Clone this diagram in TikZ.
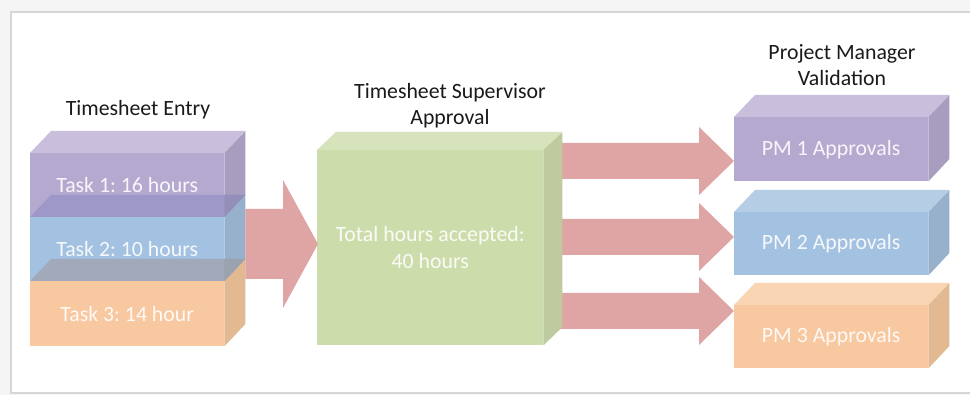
\documentclass[tikz,border=0pt]{standalone}
\usepackage{fontspec}
\setmainfont{Carlito}
\frenchspacing
\usetikzlibrary{calc}
\definecolor{purpF}{HTML}{B5A9CF}
\definecolor{purpT}{HTML}{C9BFDD}
\definecolor{purpS}{HTML}{A89DBF}
\definecolor{blueF}{HTML}{A3C1E0}
\definecolor{blueT}{HTML}{B6CDE6}
\definecolor{blueS}{HTML}{97B0CC}
\definecolor{oranF}{HTML}{F8C8A0}
\definecolor{oranT}{HTML}{FAD5B4}
\definecolor{oranS}{HTML}{E3B992}
\definecolor{greenF}{HTML}{CDDCAB}
\definecolor{greenT}{HTML}{D7E3BB}
\definecolor{greenS}{HTML}{BDCB9E}
\definecolor{ovA}{HTML}{9D98C8}
\definecolor{ovAs}{HTML}{948FB9}
\definecolor{ovB}{HTML}{A1A9BA}
\definecolor{ovBs}{HTML}{9AA1AF}
\definecolor{arrowc}{HTML}{DFA4A4}
\definecolor{framec}{HTML}{D6D6D6}
\definecolor{outbg}{HTML}{F5F5F5}
\definecolor{titlec}{HTML}{1A1A1A}
\begin{document}
\begin{tikzpicture}[x=1pt,y=-1pt,
  front/.style={draw=none, inner sep=0pt, anchor=north west,
    minimum width=#1, text=white, text opacity=0.9,
    font=\fontsize{21.8}{27}\selectfont, align=center},
  front/.default=194pt,
  title/.style={text=titlec, font=\fontsize{21.8}{26}\selectfont, align=center, inner sep=0pt},
  arr/.style={fill=arrowc, draw=none}]
\useasboundingbox (0,0) rectangle (970,395);
\fill[outbg] (0,0) rectangle (970,395);
\filldraw[fill=white, draw=framec, line width=1.5pt] (11,12) rectangle (980,393);

% ---------- left stack ----------
\node[front, fill=purpF, minimum height=64pt] (t1) at (30,153) {Task 1: 16 hours};
\fill[purpT] (t1.north west) -- ++(21,-22) -- ++(194,0) -- (t1.north east) -- cycle;
\fill[purpS] (t1.north east) -- ++(21,-22) -- ++(0,64) -- (t1.south east) -- cycle;

\node[front, fill=blueF, minimum height=64pt] (t2) at (30,217) {Task 2: 10 hours};
\fill[blueS] (t2.north east) -- ++(21,-22) -- ++(0,64) -- (t2.south east) -- cycle;
\fill[ovA] (t2.north west) -- ++(21,-22) -- ++(194,0) -- (t2.north east) -- cycle;
\fill[ovAs] (t2.north east) -- ++(21,-22) -- ++(-21,0) -- cycle;

\node[front, fill=oranF, minimum height=65pt] (t3) at (30,281) {Task 3: 14 hour};
\fill[oranS] (t3.north east) -- ++(21,-22) -- ++(0,65) -- (t3.south east) -- cycle;
\fill[ovB] (t3.north west) -- ++(21,-22) -- ++(194,0) -- (t3.north east) -- cycle;
\fill[ovBs] (t3.north east) -- ++(21,-22) -- ++(-21,0) -- cycle;

\node[title] (entry) at (138,110) {Timesheet Entry};

% ---------- PM boxes ----------
\node[front=194pt, fill=purpF, minimum height=64pt] (pm1) at (734,117) {PM 1 Approvals};
\node[front=194pt, fill=blueF, minimum height=63pt] (pm2) at (734,212) {PM 2 Approvals};
\node[front=194pt, fill=oranF, minimum height=63pt] (pm3) at (734,305) {PM 3 Approvals};

% ---------- arrows to PM boxes (starting behind the green side face) ----------
\coordinate (tipA) at ($(pm1.north west)+(0,44)$);
\coordinate (tipB) at ($(pm2.north west)+(0,25)$);
\coordinate (tipC) at ($(pm3.north west)+(0,6)$);
\foreach \t in {tipA,tipB,tipC}{
  \fill[arr] (\t) -- ++(-35,-34) -- ++(0,16) -- ++(-146,0) -- ++(0,36)
    -- ++(146,0) -- ++(0,16) -- cycle;
}

% ---------- green box ----------
\node[front=226pt, fill=greenF, minimum height=195pt] (g) at (317,150)
  {Total hours accepted:\\40 hours};
\fill[greenT] (g.north west) -- ++(19,-18) -- ++(226,0) -- (g.north east) -- cycle;
\fill[greenS] (g.north east) -- ++(19,-18) -- ++(0,195) -- (g.south east) -- cycle;
\node[title] (sup) at (450,106) {Timesheet Supervisor\\Approval};

% ---------- left arrow ----------
\coordinate (tipL) at ($(g.north west)+(1,94)$);
\fill[arr] (tipL) -- ++(-35,-64) -- ++(0,29) -- ($(t2.north east)+(21,-8)$)
  -- ($(t2.north east)+(21,62)$) -- ($(tipL)+(-35,35)$) -- ++(0,29) -- cycle;

% ---------- PM box faces ----------
\foreach \b/\h/\tc/\sc in {pm1/64/purpT/purpS, pm2/63/blueT/blueS, pm3/63/oranT/oranS}{
  \fill[\tc] (\b.north west) -- ++(21,-22) -- ++(194,0) -- (\b.north east) -- cycle;
  \fill[\sc] (\b.north east) -- ++(21,-22) -- ++(0,\h) -- (\b.south east) -- cycle;
}
\node[title] (pmv) at (842,65) {Project Manager\\Validation};
\end{tikzpicture}
\end{document}
